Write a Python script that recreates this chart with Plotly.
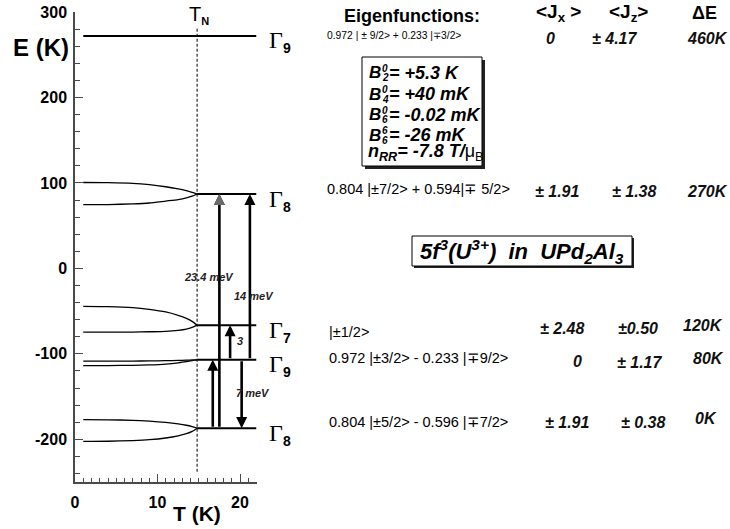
import plotly.graph_objects as go

W, H = 730, 529

# ---------------- data ----------------
T_neel = 14.8
T_max = 22.0
T_start = 1.0

# temperatures at which split levels were read (below T_N)
T_split = [1, 4, 7, 9, 11, 12.5, 13.5, 14.2, 14.8]
G8e_upper = [100.5, 100.3, 99.5, 98.0, 95.5, 93.0, 91.0, 89.0, 87.0]
G8e_lower = [74.5, 74.7, 75.5, 76.5, 78.8, 80.5, 82.5, 84.5, 87.0]
G7_upper = [-44.5, -44.8, -46.0, -48.0, -51.0, -55.0, -58.5, -62.0, -66.5]
G7_lower = [-74.6, -74.6, -74.5, -74.2, -73.7, -72.5, -71.0, -69.0, -66.5]
G9l_upper = [-108.6, -108.6, -108.5, -108.3, -108.0, -107.7, -107.4, -107.2, -107.0]
G9l_lower = [-113.7, -113.7, -113.5, -113.0, -112.0, -110.5, -109.0, -108.0, -107.0]
G8g_upper = [-177.0, -177.2, -177.8, -178.8, -180.3, -182.0, -183.6, -185.2, -187.0]
G8g_lower = [-202.5, -202.3, -201.5, -200.5, -198.5, -196.0, -193.5, -190.8, -187.0]

# paramagnetic levels (K)
levels = [272, 87, -66.5, -107, -187]
level_sub = ["9", "8", "7", "9", "8"]

# transitions (T position, from level, to level)
arrow_T = [16.7, 17.5, 18.8, 20.2, 21.2]
arrow_from = [-187, -187, -107, -107, -107]
arrow_to = [-107, 87, -66.5, -187, 87]
arrow_head_color = ["black", "#6b6b6b", "black", "black", "black"]
arrow_labels = ["23.4 meV", "14 meV", "3", "7 meV"]

# table
eigenfunctions = [
    "0.972 | ± 9/2&gt; + 0.233 |∓3/2&gt;",
    "0.804 |±7/2&gt; + 0.594|∓ 5/2&gt;",
    "|±1/2&gt;",
    "0.972 |±3/2&gt; - 0.233 |∓9/2&gt;",
    "0.804 |±5/2&gt; - 0.596 |∓7/2&gt;",
]
Jx_vals = ["0", "± 1.91", "± 2.48", "0", "± 1.91"]
Jz_vals = ["± 4.17", "± 1.38", "±0.50", "± 1.17", "± 0.38"]
dE_vals = ["460K", "270K", "120K", "80K", "0K"]

B_sup = ["0", "0", "0", "6"]
B_sub = ["2", "4", "6", "6"]
B_vals = ["= +5.3 K", "= +40 mK", "= -0.02 mK", "= -26 mK"]
n_RR = "-7.8"

yticks = [-200, -100, 0, 100, 200, 300]
yticktext = ["-200", "-100", "0", "100", "200", "300"]
xticks = [0, 10, 20]

# ---------------- layout helpers ----------------
def px(x):
    return x / W

def py(y):
    return 1 - y / H

SANS = "Liberation Sans, Arial, sans-serif"
SERIF = "Liberation Serif, Times New Roman, serif"
AXC = "#4a4a4a"

fig = go.Figure()

# split curves
for up, lo in [(G8e_upper, G8e_lower), (G7_upper, G7_lower),
               (G9l_upper, G9l_lower), (G8g_upper, G8g_lower)]:
    for ys in (up, lo):
        fig.add_trace(go.Scatter(x=T_split, y=ys, mode="lines",
                                 line=dict(color="black", width=1.3, shape="spline", smoothing=0.6),
                                 hoverinfo="skip", showlegend=False))

# paramagnetic levels above T_N and top level
for i, E in enumerate(levels):
    x0 = T_start if i == 0 else T_neel
    fig.add_trace(go.Scatter(x=[x0, T_max], y=[E, E], mode="lines",
                             line=dict(color="black", width=2),
                             hoverinfo="skip", showlegend=False))

# T_N dashed line
fig.add_trace(go.Scatter(x=[T_neel, T_neel], y=[-238, 282], mode="lines",
                         line=dict(color="black", width=1, dash="3px,2px"),
                         hoverinfo="skip", showlegend=False))

annotations = []

def txt(x, y, text, font, xa="center", ya="middle"):
    annotations.append(dict(x=px(x), y=py(y), xref="paper", yref="paper", text=text,
                            showarrow=False, xanchor=xa, yanchor=ya, font=font))

# arrows
for T, e0, e1, hc in zip(arrow_T, arrow_from, arrow_to, arrow_head_color):
    annotations.append(dict(x=T, y=e1, ax=T, ay=e0, xref="x", yref="y", axref="x", ayref="y",
                            text="", showarrow=True, arrowhead=2, arrowsize=0.85, arrowwidth=2.6,
                            arrowcolor="black", standoff=0, startstandoff=0))
    if hc != "black":
        d = -9 if e1 > e0 else 9
        annotations.append(dict(x=T, y=e1, ax=T, ay=e1 + d, xref="x", yref="y", axref="x", ayref="y",
                                text="", showarrow=True, arrowhead=2, arrowsize=0.85, arrowwidth=2.6,
                                arrowcolor=hc, standoff=0, startstandoff=0))

# arrow labels
lab_pos = [(209, 277), (254, 296), (240, 341), (253, 393)]
for t, (x, y) in zip(arrow_labels, lab_pos):
    txt(x, y, t, dict(family=SANS, size=11, color="#222", weight="bold", style="italic"))

# Gamma labels
for E, s in zip(levels, level_sub):
    annotations.append(dict(x=T_max, y=E, xref="x", yref="y", xanchor="left", yanchor="middle",
                            xshift=10, yshift=-6, showarrow=False,
                            text=f"Γ<sub><span style='font-family:Liberation Sans;font-weight:bold;font-size:14px'>{s}</span></sub>",
                            font=dict(family=SERIF, size=24, color="black")))

# T_N label
txt(199, 15, "T<sub><span style='font-weight:bold;font-size:11px'>N</span></sub>",
    dict(family=SANS, size=20, color="black"))

# axis titles
txt(41, 48, "E (K)", dict(family=SANS, size=24, color="black", weight="bold"))
txt(197, 513, "T (K)", dict(family=SANS, size=21, color="black", weight="bold"))

# table headers
txt(412, 16, "Eigenfunctions:", dict(family=SANS, size=18, color="black", weight="bold"))
txt(558, 13, "&lt;J<sub>x</sub> &gt;", dict(family=SANS, size=19, color="black", weight="bold"))
txt(628, 13, "&lt;J<sub>z</sub>&gt;", dict(family=SANS, size=19, color="black", weight="bold"))
txt(704, 13, "ΔE", dict(family=SANS, size=18, color="black", weight="bold"))

# table rows
eig_pos = [(325, 36), (325, 189), (327, 332), (327, 358), (327, 422)]
eig_size = [10.3, 14.5, 14.5, 14.5, 14.5]
jx_pos = [(550, 38), (557, 191), (562, 328), (577, 361), (567, 422)]
jz_pos = [(614, 38), (634, 191), (638, 328), (639, 362), (643, 422)]
de_pos = [(707, 38), (707, 191), (703, 325), (708, 358), (706, 418)]
valfont = dict(family=SANS, size=16, color="#111", weight="bold", style="italic")
for i in range(5):
    x, y = eig_pos[i]
    txt(x, y, eigenfunctions[i], dict(family=SANS, size=eig_size[i], color="black"), xa="left")
    for vals, pos in ((Jx_vals, jx_pos), (Jz_vals, jz_pos), (dE_vals, de_pos)):
        x, y = pos[i]
        txt(x, y, vals[i], valfont)

# B parameter box text
b_y = [73, 94, 115, 135]
bf = dict(family=SANS, color="black", weight="bold", style="italic")
for sp, sb, v, y in zip(B_sup, B_sub, B_vals, b_y):
    txt(367, y, "B", dict(size=17, **bf), xa="left")
    txt(380, y - 5, sp, dict(size=10, **bf), xa="left")
    txt(380, y + 5, sb, dict(size=10, **bf), xa="left")
    txt(387, y, v, dict(size=18, **bf), xa="left")
txt(366, 152,
    f"n<sub>RR</sub>= {n_RR} T/<span style='font-style:normal;font-weight:normal'>μ<sub>B</sub></span>",
    dict(size=18, **bf), xa="left")

# compound box text
txt(522, 251, "5f<sup>3</sup>(U<sup>3+</sup>)&nbsp;&nbsp;in&nbsp;&nbsp;UPd<sub>2</sub>Al<sub>3</sub>",
    dict(family=SANS, size=22, color="black", weight="bold", style="italic"))

shapes = []
for (x0, y0, x1, y1, s) in [(362, 57, 482, 166, 3), (412, 236, 632, 266, 2)]:
    shapes.append(dict(type="rect", xref="paper", yref="paper", x0=px(x0 + s), x1=px(x1 + s),
                       y0=py(y1 + s), y1=py(y0 + s), fillcolor="#222", line=dict(width=0), layer="below"))
    shapes.append(dict(type="rect", xref="paper", yref="paper", x0=px(x0), x1=px(x1),
                       y0=py(y1), y1=py(y0), fillcolor="white", line=dict(color="black", width=1), layer="below"))

fig.update_layout(
    width=W, height=H, margin=dict(l=0, r=0, t=0, b=0),
    paper_bgcolor="white", plot_bgcolor="rgba(0,0,0,0)",
    showlegend=False,
    xaxis=dict(domain=[px(75), px(256.5)], range=[0, T_max], tickvals=xticks,
               ticks="inside", ticklen=8, tickwidth=1.2, tickcolor=AXC, ticklabelstandoff=5,
               showline=True, linecolor=AXC, linewidth=1.5, showgrid=False, zeroline=False,
               tickfont=dict(family=SANS, size=16, color="black", weight="bold"),
               minor=dict(dtick=1, ticks="inside", ticklen=4, tickcolor=AXC, tickwidth=1),
               automargin=False, fixedrange=True),
    yaxis=dict(domain=[py(482), py(12)], range=[-250, 300], tickvals=yticks, ticktext=yticktext,
               ticks="inside", ticklen=8, tickwidth=1.2, tickcolor=AXC, ticklabelstandoff=3,
               showline=True, linecolor=AXC, linewidth=1.5, showgrid=False, zeroline=False,
               tickfont=dict(family=SANS, size=16, color="black", weight="bold"),
               minor=dict(dtick=20, ticks="inside", ticklen=5, tickcolor=AXC, tickwidth=1),
               automargin=False, fixedrange=True),
    annotations=annotations,
    shapes=shapes,
)

fig.write_html("out.html", config={"displayModeBar": False},
               post_script="document.body.style.margin='0px';")
